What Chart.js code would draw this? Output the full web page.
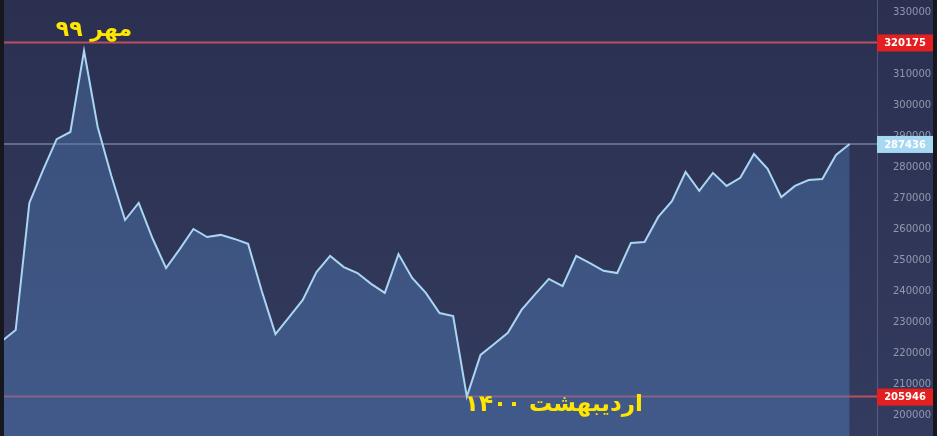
<!DOCTYPE html>
<html>
<head>
<meta charset="utf-8">
<script src="https://cdn.jsdelivr.net/npm/chart.js@4/dist/chart.umd.min.js"></script>
<style>
  html, body { margin: 0; padding: 0; background: #2d3353; }
  #wrap { width: 937px; height: 436px; }
</style>
</head>
<body>
<div id="wrap"><canvas id="priceChart"></canvas></div>
<script>
'use strict';

// weekly closes
let weeks = [];
for (let i = 1; i <= 63; i++) {
  weeks.push(i);
}

let closes = [
  223900, 227400, 268400, 279000, 289000, 291300, 317500, 292900, 277100, 262900,
  268400, 257100, 247400, 253500, 260000, 257400, 258100, 256800, 255200, 240000,
  226100, 231600, 237100, 246100, 251300, 247700, 245800, 242300, 239400, 251900,
  244200, 239400, 232900, 231900, 205946, 219400, 222900, 226500, 233900, 239000,
  243900, 241600, 251300, 249000, 246500, 245800, 255500, 255800, 263900, 269000,
  278400, 272300, 278100, 273900, 276500, 284200, 279400, 270300, 273900, 275800,
  276100, 283900, 287436
];

let yTicks = [200000, 210000, 220000, 230000, 240000, 250000, 260000, 270000,
  280000, 290000, 300000, 310000, 320000, 330000];

let highValue = 320175;
let lowValue = 205946;
let lastValue = 287436;

let highLabel = 'مهر ۹۹';
let lowLabel = 'اردیبهشت ۱۴۰۰';

let points = closes.map((v, i) => ({ x: i, y: v }));

const backdrop = {
  id: 'backdrop',
  beforeDraw(chart) {
    const ctx = chart.ctx;
    const g = ctx.createLinearGradient(0, 0, 0, chart.height);
    g.addColorStop(0, '#2b3051');
    g.addColorStop(1, '#333b5e');
    ctx.save();
    ctx.fillStyle = g;
    ctx.fillRect(0, 0, chart.width, chart.height);
    ctx.restore();
  }
};

function badge(ctx, x, y, w, text, bg, fg) {
  ctx.fillStyle = bg;
  ctx.fillRect(x, y - 8, w, 17);
  ctx.fillStyle = fg;
  ctx.font = 'bold 10px "DejaVu Sans"';
  ctx.textAlign = 'center';
  ctx.textBaseline = 'middle';
  ctx.fillText(text, x + w / 2, y + 1);
}

const levels = {
  id: 'levels',
  beforeDatasetsDraw(chart) {
    const ctx = chart.ctx;
    const y = chart.scales.y;
    const area = chart.chartArea;
    ctx.save();
    ctx.lineWidth = 2;
    ctx.strokeStyle = '#b8505e';
    [highValue, lowValue].forEach(v => {
      const py = y.getPixelForValue(v);
      ctx.beginPath();
      ctx.moveTo(0, py);
      ctx.lineTo(area.right, py);
      ctx.stroke();
    });
    ctx.lineWidth = 1.5;
    ctx.strokeStyle = 'rgba(150,158,185,0.7)';
    const py = y.getPixelForValue(lastValue);
    ctx.beginPath();
    ctx.moveTo(0, py);
    ctx.lineTo(area.right, py);
    ctx.stroke();
    ctx.restore();
  },
  afterDraw(chart) {
    const ctx = chart.ctx;
    const y = chart.scales.y;
    const area = chart.chartArea;
    const pts = chart.getDatasetMeta(0).data;
    ctx.save();
    badge(ctx, area.right, y.getPixelForValue(highValue), 56, String(highValue), '#e3201f', '#ffffff');
    badge(ctx, area.right, y.getPixelForValue(lowValue), 56, String(lowValue), '#e3201f', '#ffffff');
    badge(ctx, area.right, y.getPixelForValue(lastValue), 56, String(lastValue), '#a6d8f2', '#ffffff');

    // dark frame strips at the edges
    ctx.fillStyle = '#17181f';
    ctx.fillRect(0, 0, 4, chart.height);
    ctx.fillRect(933, 0, chart.width - 933, chart.height);

    // month notes
    let hi = 0, lo = 0;
    closes.forEach((v, i) => {
      if (v > closes[hi]) hi = i;
      if (v < closes[lo]) lo = i;
    });
    ctx.fillStyle = '#ffe600';
    ctx.direction = 'rtl';
    ctx.textBaseline = 'middle';
    ctx.font = 'bold 22px "DejaVu Sans"';
    ctx.textAlign = 'center';
    ctx.fillText(highLabel, pts[hi].x + 10, 30);
    ctx.font = 'bold 23px "DejaVu Sans"';
    ctx.textAlign = 'left';
    ctx.fillText(lowLabel, pts[lo].x - 2, 405);
    ctx.restore();
  }
};

const config = {
  type: 'line',
  data: {
    datasets: [{
      data: points,
      borderColor: '#aad6f2',
      borderWidth: 2,
      pointRadius: 0,
      tension: 0,
      fill: 'start',
      backgroundColor: (context) => {
        const area = context.chart.chartArea;
        if (!area) {
          return 'rgba(78,120,175,0.45)';
        }
        const g = context.chart.ctx.createLinearGradient(0, area.top, 0, area.bottom);
        g.addColorStop(0, 'rgba(75,118,172,0.42)');
        g.addColorStop(1, 'rgba(80,120,180,0.5)');
        return g;
      }
    }]
  },
  options: {
    responsive: true,
    maintainAspectRatio: false,
    animation: false,
    layout: { padding: { left: 2, top: 0, bottom: 0, right: 0 } },
    plugins: {
      legend: { display: false },
      tooltip: { enabled: false }
    },
    scales: {
      x: {
        type: 'linear',
        display: false,
        min: 0,
        max: weeks.length + 1
      },
      y: {
        position: 'right',
        min: 193226,
        max: 333871,
        afterFit: (scale) => {
          scale.width = 60;
          scale.paddingTop = 0;
          scale.paddingBottom = 0;
        },
        afterBuildTicks: (scale) => {
          scale.ticks = yTicks.map(v => ({ value: v }));
        },
        grid: { display: false },
        border: { display: true, color: 'rgba(150,160,195,0.35)', dash: [2, 2] },
        ticks: {
          color: 'rgba(185,192,212,0.7)',
          font: { family: 'DejaVu Sans', size: 10 },
          padding: 8,
          callback: (v) => String(v)
        }
      }
    }
  },
  plugins: [backdrop, levels]
};

const priceChart = new Chart(document.getElementById('priceChart'), config);
</script>
</body>
</html>
